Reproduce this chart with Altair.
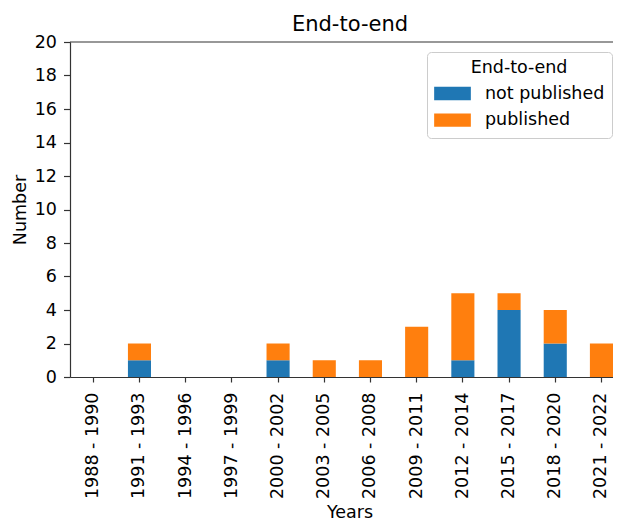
import altair as alt
import pandas as pd

categories = ["1988 - 1990", "1991 - 1993", "1994 - 1996", "1997 - 1999",
              "2000 - 2002", "2003 - 2005", "2006 - 2008", "2009 - 2011",
              "2012 - 2014", "2015 - 2017", "2018 - 2020", "2021 - 2022"]
not_published = [0, 1, 0, 0, 1, 0, 0, 0, 1, 4, 2, 0]
published = [0, 1, 0, 0, 1, 1, 1, 3, 4, 1, 2, 2]
series_names = ["not published", "published"]
series_colors = ["#1f77b4", "#ff7f0e"]
y_ticks = list(range(0, 21, 2))

rows = []
for c, a, b in zip(categories, not_published, published):
    rows.append({"Years": c, "status": series_names[0], "Number": a, "ord": 0})
    rows.append({"Years": c, "status": series_names[1], "Number": b, "ord": 1})
df = pd.DataFrame(rows)

FONT = "DejaVu Sans"
W, H = 543, 335
ycale = alt.Scale(domain=[0, 20], nice=False, zero=True)

bars = alt.Chart(df).mark_bar().encode(
    x=alt.X("Years:N", sort=categories,
            scale=alt.Scale(paddingInner=0.5, paddingOuter=0.127, align=1),
            axis=alt.Axis(title="Years", labelAngle=270, labelAlign="right",
                          labelBaseline="middle", labelPadding=10, tickSize=5,
                          labelOverlap=False,
                          titleX=279.5, titleY=140, titleBaseline="alphabetic",
                          titleAlign="center", titleAnchor="start")),
    y=alt.Y("Number:Q", stack="zero", scale=ycale,
            axis=alt.Axis(title="Number", values=y_ticks, grid=False, tickSize=6.5,
                          labelOverlap=False,
                          labelPadding=7, titleAngle=270, titleX=-50, titleY=H / 2,
                          titleAlign="center", titleBaseline="middle",
                          titleAnchor="start")),
    color=alt.Color("status:N", scale=alt.Scale(domain=series_names, range=series_colors),
                    legend=alt.Legend(title="End-to-end", orient="none", legendX=357,
                                      legendY=10, symbolType="M-1,-0.362L1,-0.362L1,0.362L-1,0.362Z",
                                      symbolSize=1347, symbolStrokeWidth=0,
                                      symbolOpacity=1, clipHeight=20, rowPadding=6.7,
                                      labelOffset=14, padding=7, titleAnchor="middle",
                                      titleAlign="center", titlePadding=7,
                                      strokeColor="#cccccc", cornerRadius=4,
                                      fillColor="white")),
    order=alt.Order("ord:Q", sort="ascending"),
)

top_spine = alt.Chart(pd.DataFrame({"v": [20]})).mark_rule(
    color="#333333", strokeWidth=1.2).encode(
    y=alt.value(0), x=alt.value(0), x2=alt.value(W))

chart = alt.layer(bars, top_spine).properties(
    width=W, height=H,
    title=alt.TitleParams("End-to-end", fontSize=21, fontWeight="normal", font=FONT,
                          color="black", anchor="middle", dx=8.5, offset=0, dy=1.5),
    autosize=alt.AutoSizeParams(type="none"),
    padding={"left": 62, "top": 34, "right": 0, "bottom": 143},
).configure_view(stroke=None).configure_axis(
    labelFont=FONT, titleFont=FONT, labelFontSize=17.5, titleFontSize=17.5,
    titleFontWeight="normal", labelColor="black", titleColor="black",
    domainColor="#333333", tickColor="#333333", domainWidth=1.2, tickWidth=1.2,
).configure_legend(
    labelFont=FONT, titleFont=FONT, labelFontSize=17.5, titleFontSize=17.5,
    titleFontWeight="normal", labelColor="black", titleColor="black",
)

chart.save("out.html", embed_options={"renderer": "svg", "actions": False})
